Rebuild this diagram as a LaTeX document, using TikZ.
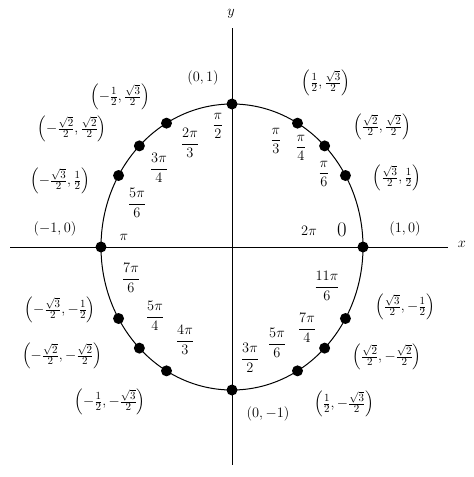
\documentclass[tikz,border=0pt]{standalone}
\usepackage{amsmath}
\usetikzlibrary{calc}
\begin{document}
\begin{tikzpicture}[x=1pt,y=-1pt,
  dot/.style={circle,fill=black,inner sep=0pt,minimum size=11pt},
  lab/.style={inner sep=0pt,font=\fontsize{15}{18}\selectfont},
  ang/.style={inner sep=0pt,font=\fontsize{14}{16}\selectfont}]
\useasboundingbox (0,0) rectangle (474,477);
\coordinate (O) at (232,247);
\coordinate (xl) at (10,247); \coordinate (xr) at (448,247);
\coordinate (yt) at (232,28); \coordinate (yb) at (232,465);
\draw[line width=0.8pt] (xl) -- (xr);
\draw[line width=0.8pt] (yt) -- (yb);
\node[lab] (xlab) at (462,244) {$x$};
\node[lab] (ylab) at (231,14) {$y$};
\draw[line width=1pt] (O) ellipse [x radius=131, y radius=143];
\foreach \a in {0,30,45,60,90,120,135,150,180,210,225,240,270,300,315,330}
  \node[dot] (p\a) at ($(O)+({131*cos(\a)},{-143*sin(\a)})$) {};
% Q1
\node[lab] (c0) at (405,229) {$(1,0)$};
\node[lab] (c90) at (203,78) {$(0,1)$};
\node[lab] (c30) at (397,178) {$\left(\tfrac{\sqrt3}{2},\tfrac12\right)$};
\node[lab] (c45) at (382,127) {$\left(\tfrac{\sqrt2}{2},\tfrac{\sqrt2}{2}\right)$};
\node[lab] (c60) at (326,83) {$\left(\tfrac12,\tfrac{\sqrt3}{2}\right)$};
\node[ang] (a90) at (218,126) {$\dfrac{\pi}{2}$};
\node[ang] (a60) at (276,141) {$\dfrac{\pi}{3}$};
\node[ang] (a45) at (301,148) {$\dfrac{\pi}{4}$};
\node[ang] (a30) at (324,174) {$\dfrac{\pi}{6}$};
\node[lab] (a2pi) at (309,231) {$2\pi$};
\node[inner sep=0pt,font=\fontsize{22}{24}\selectfont] (a0) at (342,230) {$0$};
% Q2
\node[lab] (c180) at (55,229) {$(-1,0)$};
\node[lab] (c120) at (120,97) {$\left(-\tfrac12,\tfrac{\sqrt3}{2}\right)$};
\node[lab] (c135) at (72,129) {$\left(-\tfrac{\sqrt2}{2},\tfrac{\sqrt2}{2}\right)$};
\node[lab] (c150) at (60,181) {$\left(-\tfrac{\sqrt3}{2},\tfrac12\right)$};
\node[ang] (a120) at (190,143) {$\dfrac{2\pi}{3}$};
\node[ang] (a135) at (159,168) {$\dfrac{3\pi}{4}$};
\node[ang] (a150) at (137,203) {$\dfrac{5\pi}{6}$};
\node[lab] (a180) at (124,237) {$\pi$};
% Q3
\node[ang] (a210) at (131,278) {$\dfrac{7\pi}{6}$};
\node[ang] (a225) at (155,316) {$\dfrac{5\pi}{4}$};
\node[ang] (a240) at (185,340) {$\dfrac{4\pi}{3}$};
\node[lab] (c210) at (60,310) {$\left(-\tfrac{\sqrt3}{2},-\tfrac12\right)$};
\node[lab] (c225) at (62,356) {$\left(-\tfrac{\sqrt2}{2},-\tfrac{\sqrt2}{2}\right)$};
\node[lab] (c240) at (110,402) {$\left(-\tfrac12,-\tfrac{\sqrt3}{2}\right)$};
% Q4
\node[ang] (a270) at (250,358) {$\dfrac{3\pi}{2}$};
\node[ang] (a300) at (277,343) {$\dfrac{5\pi}{6}$};
\node[ang] (a315) at (307,328) {$\dfrac{7\pi}{4}$};
\node[ang] (a330) at (327,286) {$\dfrac{11\pi}{6}$};
\node[lab] (c330) at (405,307) {$\left(\tfrac{\sqrt3}{2},-\tfrac12\right)$};
\node[lab] (c315) at (387,357) {$\left(\tfrac{\sqrt2}{2},-\tfrac{\sqrt2}{2}\right)$};
\node[lab] (c300) at (344,404) {$\left(\tfrac12,-\tfrac{\sqrt3}{2}\right)$};
\node[lab] (c270) at (268,414) {$(0,-1)$};
\end{tikzpicture}
\end{document}
